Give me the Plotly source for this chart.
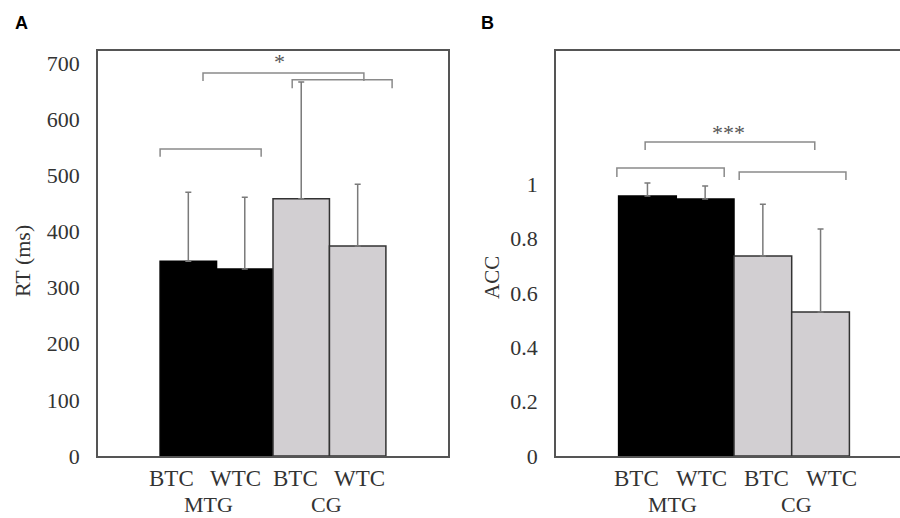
import plotly.graph_objects as go

# ---------------- data ----------------
conditions = ["BTC", "WTC", "BTC", "WTC"]
groups = ["MTG", "CG"]
bar_colors = ["#000000", "#000000", "#d2cfd2", "#d2cfd2"]

rt_mean = [347, 333, 458, 374]
rt_upper = [470, 461, 666, 484]          # mean + SD (upper error bar end)

acc_mean = [0.956, 0.945, 0.735, 0.529]
acc_upper = [1.004, 0.993, 0.926, 0.835]

# significance brackets: (x_left, x_right, y_bar, y_leg_end)
rt_brackets = [(-0.5, 1.29, 547, 533), (0.26, 3.11, 682, 668), (1.84, 3.61, 670, 655)]
rt_stars = [("*", 1.61, 703)]
acc_brackets = [(-0.53, 1.33, 1.059, 1.026), (1.59, 3.44, 1.044, 1.015), (-0.04, 2.90, 1.154, 1.125)]
acc_stars = [("***", 1.40, 1.19)]

rt_ticks = [0, 100, 200, 300, 400, 500, 600, 700]
acc_ticks = [0, 0.2, 0.4, 0.6, 0.8, 1]
acc_ticktext = ["0", "0.2", "0.4", "0.6", "0.8", "1"]

# label offsets (visual placement of category text)
rt_cond_off = [-0.305, -0.173, -0.093, 0.04]
rt_group_x = [0.35, 2.456]
acc_cond_off = [-0.198, -0.055, 0.055, 0.198]
acc_group_x = [0.426, 2.59]

xpos = list(range(len(conditions)))

SERIF = "Liberation Serif, Times New Roman, serif"
TXT = "#333333"
BRK = "#8a8a8a"

fig = go.Figure()

def add_bars(y, upper, xa, ya):
    fig.add_trace(go.Bar(
        x=xpos, y=y, width=1.0, xaxis=xa, yaxis=ya,
        marker=dict(color=bar_colors, line=dict(color=["#000000", "#000000", "#333333", "#333333"], width=1.5)),
        error_y=dict(type="data", symmetric=False,
                     array=[u - m for u, m in zip(upper, y)],
                     arrayminus=[0] * len(y),
                     color="#7a7a7a", thickness=1.5, width=3),
        showlegend=False, hoverinfo="skip"))

add_bars(rt_mean, rt_upper, "x", "y")
add_bars(acc_mean, acc_upper, "x2", "y2")

shapes = []
def add_brackets(brs, xr, yr):
    for x0, x1, yt, yl in brs:
        shapes.append(dict(type="path", xref=xr, yref=yr,
                           path=f"M {x0},{yl} L {x0},{yt} L {x1},{yt} L {x1},{yl}",
                           line=dict(color=BRK, width=1.5)))
add_brackets(rt_brackets, "x", "y")
add_brackets(acc_brackets, "x2", "y2")

annotations = []
for s, x, y in rt_stars:
    annotations.append(dict(text=s, x=x, y=y, xref="x", yref="y", showarrow=False,
                            font=dict(family=SERIF, size=22, color="#555555")))
for s, x, y in acc_stars:
    annotations.append(dict(text=s, x=x, y=y, xref="x2", yref="y2", showarrow=False,
                            font=dict(family=SERIF, size=22, color="#555555")))

row1_y = (518 - 478) / 518
row2_y = (518 - 504) / 518
for xr, offs, gx in [("x", rt_cond_off, rt_group_x), ("x2", acc_cond_off, acc_group_x)]:
    for i, (c, o) in enumerate(zip(conditions, offs)):
        annotations.append(dict(text=c, x=xpos[i] + o, y=row1_y, xref=xr, yref="paper",
                                showarrow=False, yanchor="middle", borderpad=0,
                                font=dict(family=SERIF, size=23, color=TXT)))
    for g, x in zip(groups, gx):
        annotations.append(dict(text=g, x=x, y=row2_y, xref=xr, yref="paper",
                                showarrow=False, yanchor="middle", borderpad=0,
                                font=dict(family=SERIF, size=22, color=TXT)))

# axis titles
annotations.append(dict(text="RT (ms)", x=22 / 900, y=(518 - 261) / 518, xref="paper", yref="paper",
                        showarrow=False, textangle=-90, xanchor="center", yanchor="middle",
                        font=dict(family=SERIF, size=22, color=TXT)))
annotations.append(dict(text="ACC", x=492 / 900, y=(518 - 277) / 518, xref="paper", yref="paper",
                        showarrow=False, textangle=-90, xanchor="center", yanchor="middle",
                        font=dict(family=SERIF, size=21, color=TXT)))
# panel letters
annotations.append(dict(text="<b>A</b>", x=21 / 900, y=(518 - 23) / 518, xref="paper", yref="paper",
                        showarrow=False, xanchor="center", yanchor="middle",
                        font=dict(family="Liberation Sans, Arial, sans-serif", size=18, color="#000")))
annotations.append(dict(text="<b>B</b>", x=487 / 900, y=(518 - 23) / 518, xref="paper", yref="paper",
                        showarrow=False, xanchor="center", yanchor="middle",
                        font=dict(family="Liberation Sans, Arial, sans-serif", size=18, color="#000")))

ydom = [(518 - 456) / 518, (518 - 51) / 518]
axis_line = dict(showline=True, linecolor="#555555", linewidth=1.5, showgrid=False, zeroline=False,
                 automargin=False)

fig.update_layout(
    width=900, height=518,
    margin=dict(l=0, r=0, t=0, b=0, autoexpand=False),
    paper_bgcolor="white", plot_bgcolor="white",
    barmode="overlay",
    xaxis=dict(domain=[98 / 900, 448 / 900], range=[-1.6, 4.6], showticklabels=False, ticks="",
               mirror=True, **axis_line),
    yaxis=dict(domain=ydom, range=[0, 721.4], tickvals=rt_ticks, ticks="", mirror=True,
               ticklabelstandoff=12,
               tickfont=dict(family=SERIF, size=22, color=TXT), **axis_line),
    xaxis2=dict(domain=[556 / 900, 1.0], range=[-1.585, 4.377], showticklabels=False, ticks="",
                mirror=True, anchor="y2", **axis_line),
    yaxis2=dict(domain=ydom, range=[0, 1.489], tickvals=acc_ticks, ticktext=acc_ticktext, ticks="",
                mirror=False, anchor="x2", ticklabelstandoff=12,
                tickfont=dict(family=SERIF, size=22, color=TXT), **axis_line),
    shapes=shapes,
    annotations=annotations,
)

js = "document.body.style.margin='0';document.body.style.overflow='hidden';"
fig.write_html("out.html", post_script=js, config={"displayModeBar": False})
